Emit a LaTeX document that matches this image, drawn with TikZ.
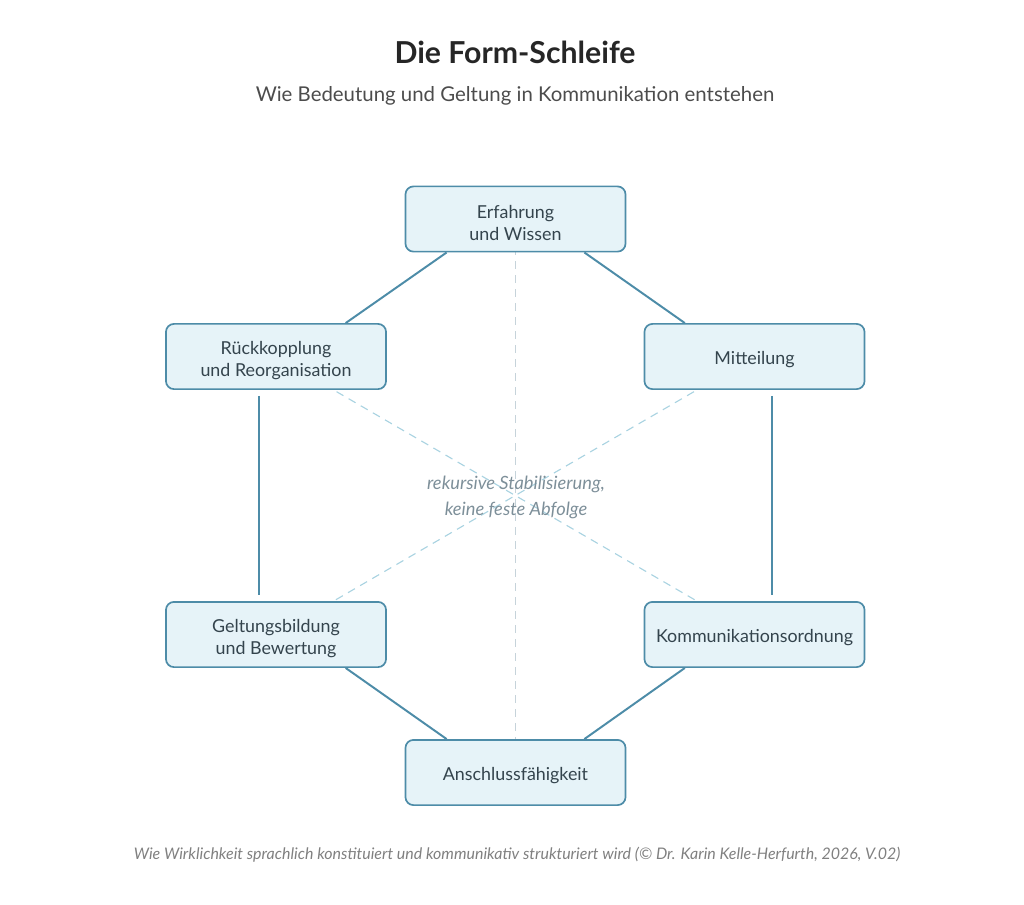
\documentclass[tikz,border=0pt]{standalone}
\usepackage{fontspec}
\setmainfont{Lato}
\usetikzlibrary{backgrounds}

\definecolor{boxfill}{HTML}{E6F3F8}
\definecolor{boxline}{HTML}{4D8CA8}
\definecolor{boxtext}{HTML}{34444D}
\definecolor{diagblue}{HTML}{A9D3E1}
\definecolor{midgrey}{HTML}{C6D3DA}
\definecolor{softtext}{HTML}{7D8F99}

\begin{document}
\begin{tikzpicture}[x=0.025cm,y=-0.025cm,
  stage/.style={draw=boxline,line width=1.2pt,fill=boxfill,rounded corners=0.2cm,
    minimum width=5.5cm,minimum height=1.63cm,align=center,text=boxtext,
    font=\fontsize{12.7}{15.6}\selectfont,execute at begin node={\rule{0pt}{13.5pt}}},
  twoline/.style={execute at begin node={\rule{0pt}{30.5pt}}},
  link/.style={draw=boxline,line width=1.4pt},
  cross/.style={draw=diagblue,line width=0.8pt,dash pattern=on 0.2cm off 0.15cm},
  axis/.style={draw=midgrey,line width=0.8pt,dash pattern=on 0.2cm off 0.15cm}]
\useasboundingbox (0,0) rectangle (1024,904);

% titles
\node[text=black!85] (title) at (515,52) {\fontsize{21.5}{26}\selectfont\bfseries Die Form-Schleife};
\node[text=black!70] (subtitle) at (515,96) {\fontsize{14.5}{18}\selectfont Wie Bedeutung und Geltung in Kommunikation entstehen};

% the six stages
\node[stage,twoline] (wissen) at (515.5,219) {Erfahrung\\und Wissen};
\node[stage] (mitteilung) at (754.5,356.5) {Mitteilung};
\node[stage] (ordnung) at (754.5,634.5) {Kommunikationsordnung};
\node[stage] (anschluss) at (515.5,772.5) {Anschlussfähigkeit};
\node[stage,twoline] (geltung) at (276,634.5) {Geltungsbildung\\und Bewertung};
\node[stage,twoline] (reorg) at (276,356.5) {Rückkopplung\\und Reorganisation};

% dashed cross lines behind the boxes
\begin{scope}[on background layer]
\draw[axis] (wissen.center)--(anschluss.center);
\draw[cross] (reorg.center)--(ordnung.center);
\draw[cross] (mitteilung.center)--(geltung.center);
\end{scope}

\node[text=softtext,align=center,font=\fontsize{13}{18.5}\selectfont\itshape] (mitte) at (516,497)
  {rekursive Stabilisierung,\\keine feste Abfolge};

% the loop
\draw[link] ([xshift=1.05cm]wissen.south west)--([xshift=-1.03cm]reorg.north east);
\draw[link] ([xshift=-1.05cm]wissen.south east)--([xshift=1.03cm]mitteilung.north west);
\draw[link] ([xshift=0.43cm,yshift=-0.15cm]mitteilung.south)--([xshift=0.43cm,yshift=0.15cm]ordnung.north);
\draw[link] ([xshift=1.03cm]ordnung.south west)--([xshift=-1.05cm]anschluss.north east);
\draw[link] ([xshift=-1.03cm]geltung.south east)--([xshift=1.05cm]anschluss.north west);
\draw[link] ([xshift=-0.43cm,yshift=-0.15cm]reorg.south)--([xshift=-0.43cm,yshift=0.15cm]geltung.north);

% footer
\node[text=black!50,font=\fontsize{11.35}{14}\selectfont\itshape] (footer) at (517,855)
  {Wie Wirklichkeit sprachlich konstituiert und kommunikativ strukturiert wird (© Dr. Karin Kelle-Herfurth, 2026, V.02)};
\end{tikzpicture}
\end{document}
